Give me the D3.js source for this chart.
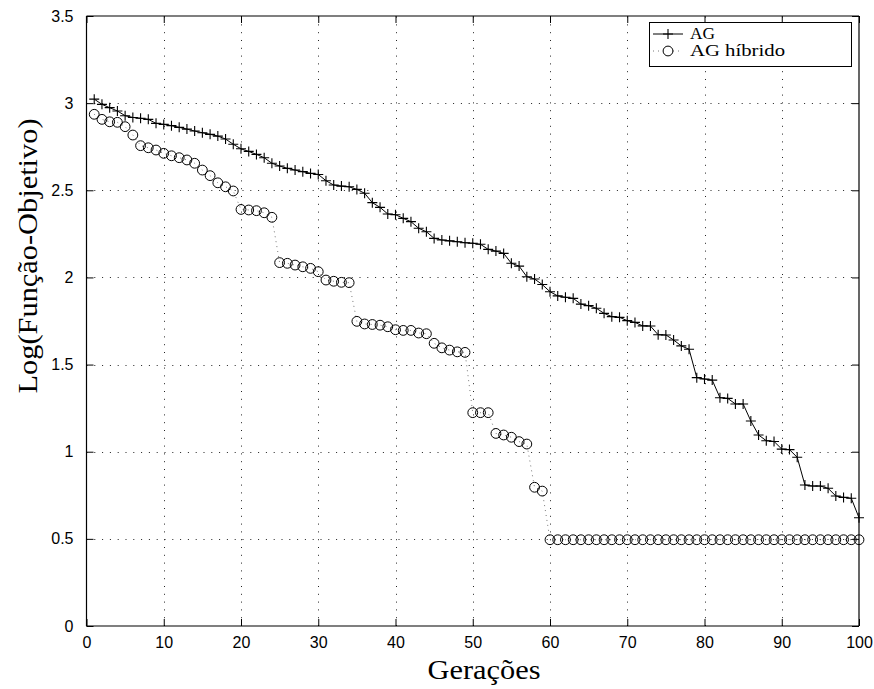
<!DOCTYPE html>
<html>
<head>
<meta charset="utf-8">
<script src="https://cdn.jsdelivr.net/npm/d3@7"></script>
<style>
  html, body { margin: 0; padding: 0; background: #fff; }
  svg { display: block; }
</style>
</head>
<body>
<svg id="chart" width="874" height="689"></svg>
<script>
// ---- data ----
const generations = d3.range(1, 101);
const agValues = [
  3.023, 2.993, 2.974, 2.955, 2.928, 2.918, 2.913, 2.907, 2.884, 2.878,
  2.871, 2.861, 2.851, 2.840, 2.830, 2.821, 2.811, 2.794, 2.764, 2.738,
  2.723, 2.706, 2.687, 2.655, 2.639, 2.626, 2.616, 2.607, 2.597, 2.591,
  2.555, 2.530, 2.524, 2.520, 2.505, 2.483, 2.429, 2.402, 2.364, 2.360,
  2.339, 2.320, 2.282, 2.262, 2.224, 2.215, 2.210, 2.205, 2.199, 2.196,
  2.190, 2.161, 2.151, 2.138, 2.081, 2.065, 2.004, 1.991, 1.959, 1.918,
  1.894, 1.886, 1.880, 1.847, 1.838, 1.823, 1.794, 1.775, 1.771, 1.752,
  1.742, 1.722, 1.721, 1.671, 1.670, 1.641, 1.607, 1.588, 1.425, 1.417,
  1.411, 1.310, 1.306, 1.274, 1.274, 1.176, 1.096, 1.063, 1.059, 1.015,
  1.012, 0.968, 0.809, 0.803, 0.803, 0.790, 0.746, 0.738, 0.733, 0.621
];
const hybridValues = [
  2.936, 2.907, 2.893, 2.890, 2.865, 2.817, 2.756, 2.744, 2.731, 2.712,
  2.698, 2.687, 2.674, 2.655, 2.616, 2.584, 2.543, 2.520, 2.496, 2.390,
  2.387, 2.383, 2.371, 2.345, 2.085, 2.081, 2.071, 2.061, 2.052, 2.033,
  1.985, 1.978, 1.972, 1.970, 1.748, 1.733, 1.730, 1.726, 1.717, 1.700,
  1.696, 1.696, 1.681, 1.677, 1.622, 1.596, 1.583, 1.573, 1.570, 1.224,
  1.224, 1.224, 1.105, 1.096, 1.083, 1.058, 1.044, 0.796, 0.774, 0.495,
  0.495, 0.495, 0.495, 0.495, 0.495, 0.495, 0.495, 0.495, 0.495, 0.495,
  0.495, 0.495, 0.495, 0.495, 0.495, 0.495, 0.495, 0.495, 0.495, 0.495,
  0.495, 0.495, 0.495, 0.495, 0.495, 0.495, 0.495, 0.495, 0.495, 0.495,
  0.495, 0.495, 0.495, 0.495, 0.495, 0.495, 0.495, 0.495, 0.495, 0.495
];
const xTicks = [0, 10, 20, 30, 40, 50, 60, 70, 80, 90, 100];
const yTicks = [0, 0.5, 1, 1.5, 2, 2.5, 3, 3.5];
const yTickLabels = ["0", "0.5", "1", "1.5", "2", "2.5", "3", "3.5"];
const seriesNames = ["AG", "AG híbrido"];
const xTitle = "Gerações";
const yTitle = "Log(Função-Objetivo)";

// ---- layout ----
const L = 86.5, R = 859, T = 16, B = 626;
const svg = d3.select("#chart");
const x = d3.scaleLinear().domain([0, 100]).range([L, R]);
const y = d3.scaleLinear().domain([0, 3.5]).range([B, T]);

// grid
const grid = svg.append("g").attr("stroke", "#222").attr("stroke-width", 1)
  .attr("stroke-dasharray", "1,6.8");
xTicks.slice(1, -1).forEach(t => {
  grid.append("line").attr("x1", Math.round(x(t)) + 0.5).attr("x2", Math.round(x(t)) + 0.5)
    .attr("y1", B).attr("y2", T);
});
yTicks.slice(1, -1).forEach(t => {
  grid.append("line").attr("y1", Math.round(y(t)) + 0.5).attr("y2", Math.round(y(t)) + 0.5)
    .attr("x1", L).attr("x2", R);
});

// axes (ticks inward, box)
const tickLen = 7;
const fontTick = "Liberation Sans, Arial, sans-serif";
const axB = svg.append("g").attr("transform", `translate(0,${B})`)
  .call(d3.axisBottom(x).tickValues(xTicks).tickSize(-tickLen).tickPadding(tickLen + 4));
const axT = svg.append("g").attr("transform", `translate(0,${T})`)
  .call(d3.axisTop(x).tickValues(xTicks).tickSize(-tickLen).tickFormat(""));
const axL = svg.append("g").attr("transform", `translate(${L},0)`)
  .call(d3.axisLeft(y).tickValues(yTicks).tickSize(-tickLen).tickPadding(tickLen + 6)
    .tickFormat((d, i) => yTickLabels[i]));
const axR = svg.append("g").attr("transform", `translate(${R},0)`)
  .call(d3.axisRight(y).tickValues(yTicks).tickSize(-tickLen).tickFormat(""));
[axB, axT, axL, axR].forEach(a => {
  a.select(".domain").attr("stroke", "#000").attr("stroke-width", 1.2);
  a.selectAll(".tick line").attr("stroke", "#000");
  a.selectAll("text").attr("font-family", fontTick).attr("font-size", 16).attr("fill", "#000");
});
axB.selectAll(".domain").attr("d", `M${L},0H${R}`);
axT.selectAll(".domain").attr("d", `M${L},0H${R}`);
axL.selectAll(".domain").attr("d", `M0,${B}V${T}`);
axR.selectAll(".domain").attr("d", `M0,${B}V${T}`);

// series
const agData = generations.map((g, i) => [g, agValues[i]]);
const hyData = generations.map((g, i) => [g, hybridValues[i]]);
const line = d3.line().x(d => x(d[0])).y(d => y(d[1]));

svg.append("path").datum(hyData).attr("d", line).attr("fill", "none")
  .attr("stroke", "#555").attr("stroke-width", 0.8).attr("stroke-dasharray", "1,4");
svg.append("path").datum(agData).attr("d", line).attr("fill", "none")
  .attr("stroke", "#000").attr("stroke-width", 1);

const cs = 5;
svg.append("g").selectAll("path").data(agData).join("path")
  .attr("d", d => `M${x(d[0]) - cs},${y(d[1])}H${x(d[0]) + cs}M${x(d[0])},${y(d[1]) - cs}V${y(d[1]) + cs}`)
  .attr("stroke", "#000").attr("stroke-width", 1.1).attr("fill", "none");

svg.append("g").selectAll("circle").data(hyData).join("circle")
  .attr("cx", d => x(d[0])).attr("cy", d => y(d[1])).attr("r", 4.9)
  .attr("fill", "none").attr("stroke", "#000").attr("stroke-width", 1);

// legend
const lg = svg.append("g");
lg.append("rect").attr("x", 649.5).attr("y", 22.5).attr("width", 202).attr("height", 44)
  .attr("fill", "#fff").attr("stroke", "#000").attr("stroke-width", 1);
lg.append("line").attr("x1", 653).attr("x2", 683).attr("y1", 34).attr("y2", 34)
  .attr("stroke", "#000").attr("stroke-width", 1);
lg.append("path").attr("d", `M${668 - cs},34H${668 + cs}M668,${34 - cs}V${34 + cs}`)
  .attr("stroke", "#000").attr("stroke-width", 1.1);
lg.append("line").attr("x1", 653).attr("x2", 683).attr("y1", 51).attr("y2", 51)
  .attr("stroke", "#555").attr("stroke-width", 0.8).attr("stroke-dasharray", "1,4");
lg.append("circle").attr("cx", 668).attr("cy", 51).attr("r", 4.9)
  .attr("fill", "#fff").attr("stroke", "#000");
const serif = "Liberation Serif, Times New Roman, serif";
lg.append("text").attr("x", 690).attr("y", 38.5).attr("font-family", serif)
  .attr("font-size", 16).attr("textLength", 25).attr("lengthAdjust", "spacingAndGlyphs")
  .text(seriesNames[0]);
lg.append("text").attr("x", 690).attr("y", 56).attr("font-family", serif)
  .attr("font-size", 16).attr("textLength", 95).attr("lengthAdjust", "spacingAndGlyphs")
  .text(seriesNames[1]);

// titles
svg.append("text").attr("x", 484).attr("y", 679).attr("text-anchor", "middle")
  .attr("font-family", serif).attr("font-size", 27)
  .attr("textLength", 113).attr("lengthAdjust", "spacingAndGlyphs").text(xTitle);
svg.append("text").attr("transform", "translate(37,256) rotate(-90)").attr("text-anchor", "middle")
  .attr("font-family", serif).attr("font-size", 27)
  .attr("textLength", 275).attr("lengthAdjust", "spacingAndGlyphs").text(yTitle);
</script>
</body>
</html>
